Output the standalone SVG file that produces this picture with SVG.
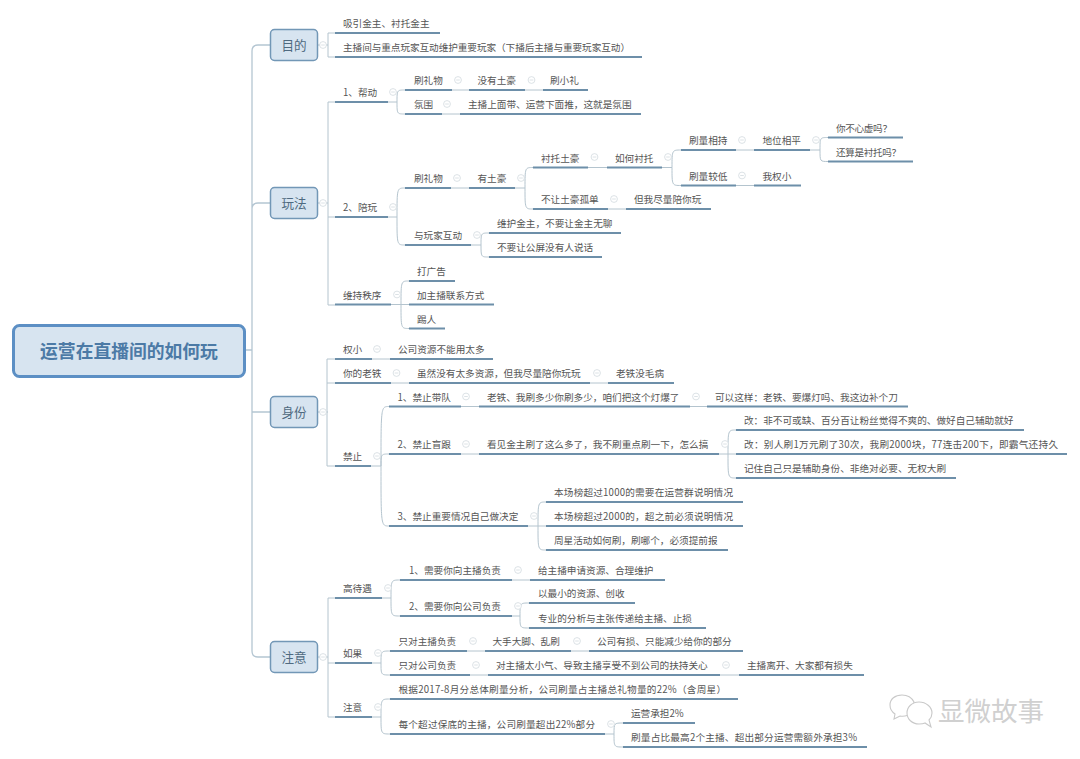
<svg xmlns="http://www.w3.org/2000/svg" width="1080" height="759" viewBox="0 0 1080 759">
<style>
text{font-family:"Noto Sans CJK SC","Liberation Sans",sans-serif}
.t{font-size:9.65px;fill:#555}
.u{stroke:#6d8fa9;stroke-width:1.9;fill:none}
.c{stroke:#b4c4ce;stroke-width:1;fill:none}
.s{stroke:#b4c6d2;stroke-width:1.3;fill:none}
.b{fill:#d7e4f0;stroke:#7297b6;stroke-width:1.5}
.bt{font-size:12.6px;fill:#4f6a80;text-anchor:middle}
.ico{fill:#fff;stroke:#d3dbdf;stroke-width:.8}
.wm{fill:#fff;stroke:#c9c9c9;stroke-width:1.1}
</style>
<defs>
<g id="m"><circle r="3.4" class="ico"/><path d="M-1.8 0H1.8" stroke="#d3dbdf" stroke-width=".8"/></g>
</defs>
<rect width="1080" height="759" fill="#fff"/>

<g id="connectors">
<path class="s" d="M270 45H258Q252 45 252 51V651Q252 657 258 657H270M252 209Q252 203 258 203H270M245 350H252M252 412H270"/>
<path class="c" d="M318 45H328M328 33H335M328 33V57H335"/>
<path class="c" d="M318 203H328M335 102H328V305H335M328 217H335"/>
<path class="c" d="M318 412H328M335 359H327V466H335M327 383H335"/>
<path class="c" d="M318 657H328M335 598H328V717H335M328 663H335"/>
<path class="c" d="M388 102H397M397 102C397 90 397 90 405 90M397 102C397 114 397 114 405 114M452 90H469M525 90H543M442 114H460"/>
<path class="c" d="M388 217H397M397 217C397 188 397 188 405 188M397 217C397 245 397 245 405 245M451 188H469"/>
<path class="c" d="M515 188H525M525 188C525 167.500 525 167.500 533 167.500M525 188C525 209 525 209 533 209M588 167.500H607M608 209H626"/>
<path class="c" d="M662 167.500H672M672 167.500C672 150 672 150 681 150M672 167.500C672 185.500 672 185.500 681 185.500M736 150H754M736 185.500H754"/>
<path class="c" d="M810 150H820M820 150C820 137.500 820 137.500 828 137.500M820 150C820 161.500 820 161.500 828 161.500"/>
<path class="c" d="M471 245H481M481 245C481 233 481 233 489 233M481 245C481 257 481 257 489 257"/>
<path class="c" d="M391 304.500H401M401 304.500C401 281 401 281 409 281M401 304.500C401 328.500 401 328.500 409 328.500M401 304.500H409"/>
<path class="c" d="M372 359H390M391 383H409M590 383H608"/>
<path class="c" d="M371 466H381M381 466C381 406.500 381 406.500 389 406.500M381 466C381 454 381 454 389 454M381 466C381 526 381 526 389 526M461 406.500H479M690 406.500H707M461 454H479"/>
<path class="c" d="M719 454H728M728 454C728 430 728 430 736 430M728 454H736M728 454C728 478 728 478 736 478"/>
<path class="c" d="M528 526H538M538 526C538 502 538 502 546 502M538 526H546M538 526C538 550 538 550 546 550"/>
<path class="c" d="M382 598H391M391 598C391 580 391 580 400 580M391 598C391 616 391 616 400 616M512 580H530"/>
<path class="c" d="M512 616H520M520 616C520 603 520 603 529 603M520 616C520 628 520 628 529 628"/>
<path class="c" d="M372 663H381M381 663C381 651 381 651 390 651M381 663C381 675 381 675 390 675M467 651H485M571 651H589M470 675H488M720 675H739"/>
<path class="c" d="M372 717H381M381 717C381 699 381 699 390 699M381 717C381 734 381 734 390 734"/>
<path class="c" d="M605 734H614M614 734C614 723 614 723 623 723M614 734C614 747 614 747 623 747"/>
</g>

<g id="root"><rect x="13.500" y="325.500" width="231" height="51" rx="6" fill="#d7e4f0" stroke="#5c8fc4" stroke-width="3"/><text x="129" y="357.500" font-size="17.800" font-weight="700" fill="#4c7aa6" text-anchor="middle">运营在直播间的如何玩</text></g>

<g id="topic-mudi"><rect class="b" x="270.500" y="29.500" width="47" height="31" rx="4"/><text class="bt" x="294" y="49.500">目的</text><use href="#m" x="323" y="45"/></g>
<g id="topic-wanfa"><rect class="b" x="270.500" y="187.500" width="47" height="31" rx="4"/><text class="bt" x="294" y="207.500">玩法</text><use href="#m" x="323" y="203"/></g>
<g id="topic-shenfen"><rect class="b" x="270.500" y="396.500" width="47" height="31" rx="4"/><text class="bt" x="294" y="416.500">身份</text><use href="#m" x="323" y="412"/></g>
<g id="topic-zhuyi"><rect class="b" x="270.500" y="641.500" width="47" height="31" rx="4"/><text class="bt" x="294" y="661.500">注意</text><use href="#m" x="323" y="657"/></g>

<g id="n1"><text class="t" x="343" y="27">吸引金主、衬托金主</text><path class="u" d="M335 33H440"/></g>
<g id="n2"><text class="t" x="343" y="51" textLength="287">主播间与重点玩家互动维护重要玩家（下播后主播与重要玩家互动）</text><path class="u" d="M335 57H642"/></g>

<g id="n3"><text class="t" x="343" y="96">1、帮动</text><path class="u" d="M335 102H388"/><use href="#m" x="393" y="92"/></g>
<g id="n4"><text class="t" x="414" y="84">刷礼物</text><path class="u" d="M405 90H452"/><use href="#m" x="458" y="80"/></g>
<g id="n5"><text class="t" x="477.500" y="84">没有土豪</text><path class="u" d="M469 90H525"/><use href="#m" x="531.500" y="80"/></g>
<g id="n6"><text class="t" x="550" y="84">刷小礼</text><path class="u" d="M543 90H588"/></g>
<g id="n7"><text class="t" x="414" y="108">氛围</text><path class="u" d="M405 114H442"/><use href="#m" x="447" y="104"/></g>
<g id="n8"><text class="t" x="468" y="108">主播上面带、运营下面推，这就是氛围</text><path class="u" d="M460 114H641"/></g>

<g id="n9"><text class="t" x="343" y="211">2、陪玩</text><path class="u" d="M335 217H388"/><use href="#m" x="393" y="207"/></g>
<g id="n10"><text class="t" x="414" y="182">刷礼物</text><path class="u" d="M405 188H451"/><use href="#m" x="457" y="178"/></g>
<g id="n11"><text class="t" x="477.500" y="182">有土豪</text><path class="u" d="M469 188H515"/><use href="#m" x="521" y="178"/></g>
<g id="n12"><text class="t" x="541" y="161.500">衬托土豪</text><path class="u" d="M533 167.500H588"/><use href="#m" x="594.500" y="157"/></g>
<g id="n13"><text class="t" x="615" y="161.500">如何衬托</text><path class="u" d="M607 167.500H662"/><use href="#m" x="668" y="157"/></g>
<g id="n14"><text class="t" x="689" y="144">刷量相持</text><path class="u" d="M681 150H736"/><use href="#m" x="742" y="140"/></g>
<g id="n15"><text class="t" x="762.500" y="144">地位相平</text><path class="u" d="M754 150H810"/><use href="#m" x="816" y="140"/></g>
<g id="n16"><text class="t" x="836" y="131.500" textLength="56">你不心虚吗？</text><path class="u" d="M828 137.500H903"/></g>
<g id="n17"><text class="t" x="836" y="155.500" textLength="65">还算是衬托吗？</text><path class="u" d="M828 161.500H913"/></g>
<g id="n18"><text class="t" x="689" y="179.500">刷量较低</text><path class="u" d="M681 185.500H736"/><use href="#m" x="742" y="175.500"/></g>
<g id="n19"><text class="t" x="762.500" y="179.500">我权小</text><path class="u" d="M754 185.500H801"/></g>
<g id="n20"><text class="t" x="541" y="203">不让土豪孤单</text><path class="u" d="M533 209H608"/><use href="#m" x="614" y="199"/></g>
<g id="n21"><text class="t" x="634" y="203">但我尽量陪你玩</text><path class="u" d="M626 209H711"/></g>
<g id="n22"><text class="t" x="414" y="239">与玩家互动</text><path class="u" d="M405 245H471"/><use href="#m" x="477" y="235"/></g>
<g id="n23"><text class="t" x="497" y="227">维护金主，不要让金主无聊</text><path class="u" d="M489 233H621"/></g>
<g id="n24"><text class="t" x="497" y="251">不要让公屏没有人说话</text><path class="u" d="M489 257H602"/></g>

<g id="n25"><text class="t" x="343" y="298.500">维持秩序</text><path class="u" d="M335 304.500H391"/><use href="#m" x="397" y="294.500"/></g>
<g id="n26"><text class="t" x="417" y="275">打广告</text><path class="u" d="M409 281H455"/></g>
<g id="n27"><text class="t" x="417" y="298.500">加主播联系方式</text><path class="u" d="M409 304.500H494"/></g>
<g id="n28"><text class="t" x="417" y="322.500">踢人</text><path class="u" d="M409 328.500H445"/></g>

<g id="n29"><text class="t" x="343" y="353">权小</text><path class="u" d="M335 359H372"/><use href="#m" x="377" y="349"/></g>
<g id="n30"><text class="t" x="398" y="353">公司资源不能用太多</text><path class="u" d="M390 359H493"/></g>
<g id="n31"><text class="t" x="343" y="377">你的老铁</text><path class="u" d="M335 383H391"/><use href="#m" x="396.500" y="373"/></g>
<g id="n32"><text class="t" x="417" y="377">虽然没有太多资源，但我尽量陪你玩玩</text><path class="u" d="M409 383H590"/><use href="#m" x="597" y="373"/></g>
<g id="n33"><text class="t" x="616" y="377">老铁没毛病</text><path class="u" d="M608 383H674"/></g>
<g id="n34"><text class="t" x="343" y="460">禁止</text><path class="u" d="M335 466H371"/><use href="#m" x="377" y="456"/></g>
<g id="n35"><text class="t" x="397.500" y="400.500">1、禁止带队</text><path class="u" d="M389 406.500H461"/><use href="#m" x="466" y="396.500"/></g>
<g id="n36"><text class="t" x="487" y="400.500">老铁、我刷多少你刷多少，咱们把这个灯爆了</text><path class="u" d="M479 406.500H690"/><use href="#m" x="696" y="396.500"/></g>
<g id="n37"><text class="t" x="715" y="400.500">可以这样：老铁、要爆灯吗、我这边补个刀</text><path class="u" d="M707 406.500H908"/></g>
<g id="n38"><text class="t" x="397.500" y="448">2、禁止盲跟</text><path class="u" d="M389 454H461"/><use href="#m" x="466" y="444"/></g>
<g id="n39"><text class="t" x="487" y="448">看见金主刷了这么多了，我不刷重点刷一下，怎么搞</text><path class="u" d="M479 454H719"/><use href="#m" x="725" y="444"/></g>
<g id="n40"><text class="t" x="744" y="424">改：非不可或缺、百分百让粉丝觉得不爽的、做好自己辅助就好</text><path class="u" d="M736 430H1024"/></g>
<g id="n41"><text class="t" x="744" y="448" textLength="314">改：别人刷1万元刷了30次，我刷2000块，77连击200下，即霸气还持久</text><path class="u" d="M736 454H1067"/></g>
<g id="n42"><text class="t" x="744" y="472">记住自己只是辅助身份、非绝对必要、无权大刷</text><path class="u" d="M736 478H956"/></g>
<g id="n43"><text class="t" x="397.500" y="520">3、禁止重要情况自己做决定</text><path class="u" d="M389 526H528"/><use href="#m" x="534" y="516"/></g>
<g id="n44"><text class="t" x="554" y="496" textLength="179">本场榜超过1000的需要在运营群说明情况</text><path class="u" d="M546 502H743"/></g>
<g id="n45"><text class="t" x="554" y="520" textLength="179">本场榜超过2000的，超之前必须说明情况</text><path class="u" d="M546 526H743"/></g>
<g id="n46"><text class="t" x="554" y="544">周星活动如何刷，刷哪个，必须提前报</text><path class="u" d="M546 550H728"/></g>

<g id="n47"><text class="t" x="343" y="591.500">高待遇</text><path class="u" d="M335 598H382"/><use href="#m" x="388" y="588"/></g>
<g id="n48"><text class="t" x="409" y="574">1、需要你向主播负责</text><path class="u" d="M400 580H512"/><use href="#m" x="518" y="570"/></g>
<g id="n49"><text class="t" x="538" y="574">给主播申请资源、合理维护</text><path class="u" d="M530 580H665"/></g>
<g id="n50"><text class="t" x="409" y="610">2、需要你向公司负责</text><path class="u" d="M400 616H512"/><use href="#m" x="518" y="606"/></g>
<g id="n51"><text class="t" x="538" y="597">以最小的资源、创收</text><path class="u" d="M529 603H635"/></g>
<g id="n52"><text class="t" x="538" y="621.500">专业的分析与主张传递给主播、止损</text><path class="u" d="M529 628H706"/></g>
<g id="n53"><text class="t" x="343" y="657">如果</text><path class="u" d="M335 663H372"/><use href="#m" x="378" y="653"/></g>
<g id="n54"><text class="t" x="398.500" y="645">只对主播负责</text><path class="u" d="M390 651H467"/><use href="#m" x="473" y="641"/></g>
<g id="n55"><text class="t" x="492.500" y="645">大手大脚、乱刷</text><path class="u" d="M485 651H571"/><use href="#m" x="577" y="641"/></g>
<g id="n56"><text class="t" x="597" y="645">公司有损、只能减少给你的部分</text><path class="u" d="M589 651H743"/></g>
<g id="n57"><text class="t" x="398.500" y="669">只对公司负责</text><path class="u" d="M390 675H470"/><use href="#m" x="476" y="665"/></g>
<g id="n58"><text class="t" x="496" y="669">对主播太小气、导致主播享受不到公司的扶持关心</text><path class="u" d="M488 675H720"/><use href="#m" x="726" y="665"/></g>
<g id="n59"><text class="t" x="747" y="669">主播离开、大家都有损失</text><path class="u" d="M739 675H864"/></g>
<g id="n60"><text class="t" x="343" y="710.500">注意</text><path class="u" d="M335 717H372"/><use href="#m" x="378" y="707"/></g>
<g id="n61"><text class="t" x="398.500" y="693" textLength="327.500">根据2017-8月分总体刷量分析，公司刷量占主播总礼物量的22%（含周星）</text><path class="u" d="M390 699H738"/></g>
<g id="n62"><text class="t" x="398.500" y="728" textLength="196.500">每个超过保底的主播，公司刷量超出22%部分</text><path class="u" d="M390 734H605"/><use href="#m" x="611" y="724"/></g>
<g id="n63"><text class="t" x="631" y="717">运营承担2%</text><path class="u" d="M623 723H695"/></g>
<g id="n64"><text class="t" x="631" y="741" textLength="226">刷量占比最高2个主播、超出部分运营需额外承担3%</text><path class="u" d="M623 747H867"/></g>

<g id="watermark">
<path class="wm" d="M902 695C895 695 890 699 890 705C890 709 892 712 895 714L894 719L900 716C905 717 910 715 912 712L914 702C912 698 908 695 902 695Z"/>
<path class="wm" d="M919 702C912 702 907 707 907 713C907 719 912 724 919 724C921 724 923 724 925 723L931 727L929 720C931 718 932 716 932 713C932 707 926 702 919 702Z"/>
<text x="938" y="721" font-size="26.500" fill="#d0d0d0">显微故事</text>
</g>
</svg>
